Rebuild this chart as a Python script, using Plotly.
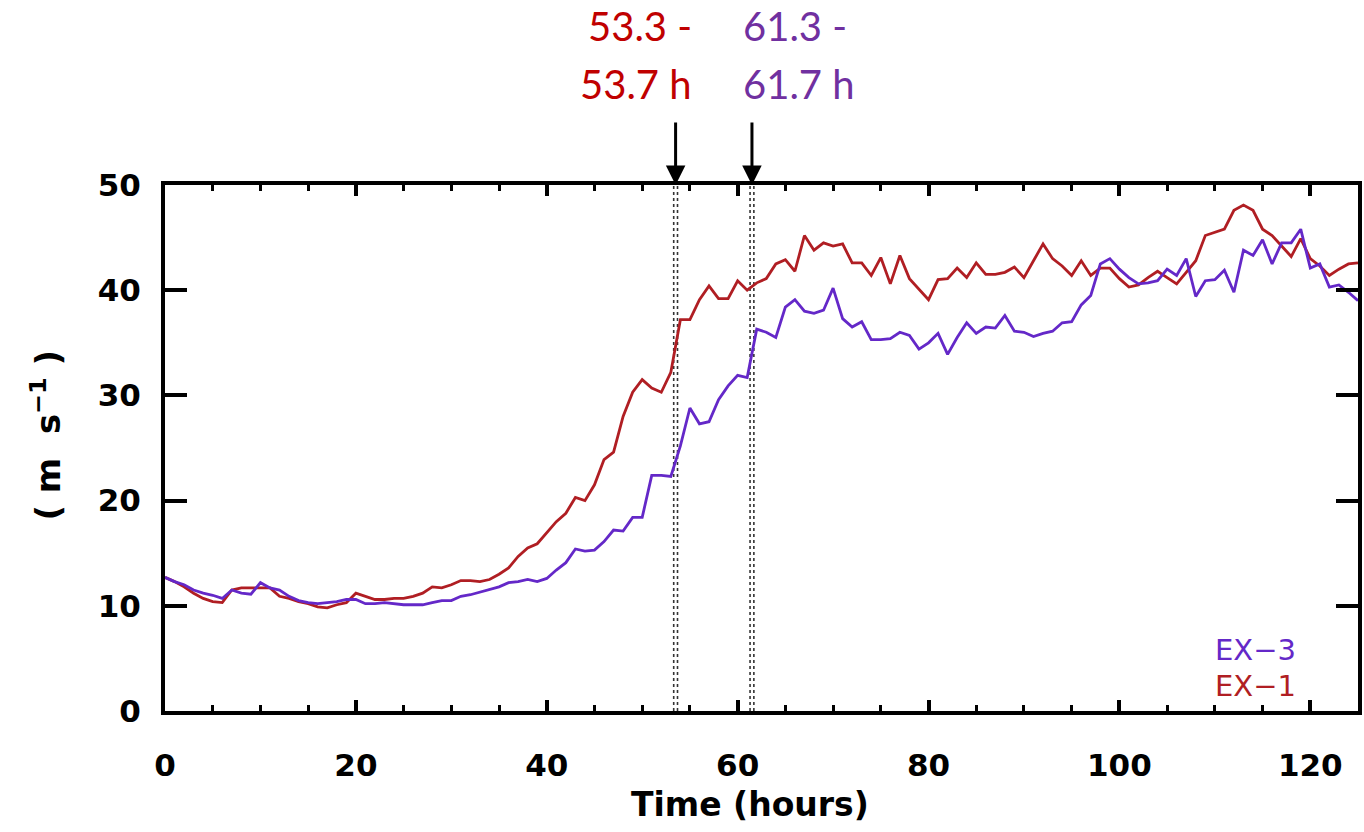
import plotly.graph_objects as go

# ---------------- data ----------------
hours = list(range(0, 126))

ex1 = [12.7, 12.3, 11.8, 11.2, 10.7, 10.4, 10.3, 11.5, 11.7, 11.7,
       11.7, 11.7, 10.9, 10.7, 10.4, 10.2, 9.9, 9.8, 10.1, 10.3,
       11.2, 10.9, 10.6, 10.6, 10.7, 10.7, 10.9, 11.2, 11.8, 11.7,
       12.0, 12.4, 12.4, 12.3, 12.5, 13.0, 13.6, 14.7, 15.5, 15.9,
       16.9, 18.0, 18.8, 20.3, 20.0, 21.5, 23.9, 24.6, 28.0, 30.3,
       31.5, 30.7, 30.3, 32.2, 37.2, 37.2, 39.1, 40.4, 39.2, 39.2,
       40.9, 40.0, 40.7, 41.1, 42.5, 42.9, 41.8, 45.2, 43.8, 44.5,
       44.2, 44.4, 42.6, 42.6, 41.4, 43.1, 40.6, 43.3, 41.1, 40.1,
       39.1, 41.0, 41.1, 42.1, 41.2, 42.6, 41.5, 41.5, 41.7, 42.2,
       41.2, 42.8, 44.4, 43.0, 42.3, 41.4, 42.8, 41.4, 42.1, 42.1,
       41.1, 40.3, 40.5, 41.2, 41.8, 41.2, 40.6, 41.7, 42.8, 45.2,
       45.5, 45.8, 47.6, 48.1, 47.6, 45.8, 45.2, 44.2, 43.2, 44.9,
       43.0, 42.3, 41.4, 42.0, 42.5, 42.6]

ex3 = [12.7, 12.3, 12.0, 11.5, 11.2, 11.0, 10.7, 11.5, 11.2, 11.1,
       12.2, 11.7, 11.5, 10.9, 10.5, 10.3, 10.2, 10.3, 10.4, 10.6,
       10.6, 10.2, 10.2, 10.3, 10.2, 10.1, 10.1, 10.1, 10.3, 10.5,
       10.5, 10.9, 11.05, 11.3, 11.6, 11.8, 12.2, 12.3, 12.5, 12.3,
       12.6, 13.4, 14.1, 15.4, 15.2, 15.3, 16.1, 17.2, 17.1, 18.4,
       18.4, 22.4, 22.4, 22.3, 25.2, 28.8, 27.3, 27.5, 29.6, 30.9,
       31.9, 31.7, 36.3, 36.0, 35.5, 38.4, 39.1, 38.0, 37.8, 38.1,
       40.2, 37.3, 36.5, 37.0, 35.3, 35.3, 35.4, 36.0, 35.7, 34.4,
       35.0, 35.9, 33.9, 35.5, 36.9, 35.9, 36.5, 36.4, 37.6, 36.1,
       36.0, 35.6, 35.9, 36.1, 36.9, 37.0, 38.6, 39.5, 42.5, 43.0,
       42.0, 41.2, 40.6, 40.7, 40.9, 42.0, 41.4, 43.0, 39.4, 40.9,
       41.0, 41.9, 39.8, 43.8, 43.3, 44.8, 42.5, 44.5, 44.5, 45.8,
       42.1, 42.5, 40.3, 40.5, 39.8, 39.0]

marker_times = [53.3, 53.7, 61.3, 61.7]
arrow_times = [53.5, 61.5]
label_lines = [["53.3 -", "53.7 h"], ["61.3 -", "61.7 h"]]
series_names = ["EX\u22123", "EX\u22121"]

# ---------------- style ----------------
RED_LINE = "#B01E23"
PURPLE_LINE = "#6428C8"
RED_TXT = "#C00000"
PURPLE_TXT = "#7030A0"
AXFONT = "DejaVu Sans"
TICK_FONT = dict(family=AXFONT, size=31, color="black", weight="bold")

fig = go.Figure()

# dotted vertical markers
for t in marker_times:
    fig.add_trace(go.Scatter(x=[t, t], y=[0, 50], mode="lines",
                             line=dict(color="#333333", width=1.6, dash="dot"),
                             showlegend=False, hoverinfo="skip"))

fig.add_trace(go.Scatter(x=hours, y=ex1, mode="lines", name="EX-1",
                         line=dict(color=RED_LINE, width=2.8), showlegend=False))
fig.add_trace(go.Scatter(x=hours, y=ex3, mode="lines", name="EX-3",
                         line=dict(color=PURPLE_LINE, width=2.8), showlegend=False))

annotations = []
# arrows
for t in arrow_times:
    annotations.append(dict(x=t, y=1.0, xref="x", yref="paper", text="",
                            showarrow=True, ax=0, ay=-64, arrowhead=2,
                            arrowsize=1.3, arrowwidth=3, arrowcolor="black"))

LBL_FONT = 40
# red labels (right aligned)
for i, txt in enumerate(label_lines[0]):
    annotations.append(dict(x=55.4, y=[1.303, 1.192][i], xref="x", yref="paper",
                            text=txt, showarrow=False, xanchor="right", yanchor="middle",
                            font=dict(family="Lato", size=LBL_FONT, color=RED_TXT)))
# purple labels (left aligned)
for i, txt in enumerate(label_lines[1]):
    annotations.append(dict(x=60.3, y=[1.303, 1.192][i], xref="x", yref="paper",
                            text=txt, showarrow=False, xanchor="left", yanchor="middle",
                            font=dict(family="Lato", size=LBL_FONT, color=PURPLE_TXT)))

# legend-like labels
annotations.append(dict(x=109.8, y=5.8, xref="x", yref="y", text=series_names[0],
                        showarrow=False, xanchor="left", yanchor="middle",
                        font=dict(family=AXFONT, size=29, color=PURPLE_LINE)))
annotations.append(dict(x=109.8, y=2.4, xref="x", yref="y", text=series_names[1],
                        showarrow=False, xanchor="left", yanchor="middle",
                        font=dict(family=AXFONT, size=29, color=RED_LINE)))

# axis titles
annotations.append(dict(x=0.49, y=-0.178, xref="paper", yref="paper", text="Time (hours)",
                        showarrow=False, xanchor="center", yanchor="middle",
                        font=dict(family=AXFONT, size=33, color="black", weight="bold")))
annotations.append(dict(x=-0.1, y=0.525, xref="paper", yref="paper",
                        text="( m  s<sup>\u22121</sup> )",
                        showarrow=False, xanchor="center", yanchor="middle", textangle=-90,
                        font=dict(family=AXFONT, size=34, color="black", weight="bold")))

fig.update_layout(
    width=1364, height=832,
    margin=dict(l=165, r=2, t=185, b=121),
    paper_bgcolor="white", plot_bgcolor="white",
    annotations=annotations,
    showlegend=False,
)

fig.update_xaxes(range=[0, 125], tickvals=[0, 20, 40, 60, 80, 100, 120],
                 showgrid=False, zeroline=False,
                 showline=True, linecolor="black", linewidth=4, mirror="ticks",
                 ticks="inside", ticklen=11, tickwidth=4, tickcolor="black",
                 tickfont=TICK_FONT, ticklabelstandoff=24,
                 minor=dict(dtick=5, ticks="inside", ticklen=6, tickwidth=3,
                            tickcolor="black", showgrid=False))
fig.update_yaxes(range=[0, 50], tickvals=[0, 10, 20, 30, 40, 50],
                 showgrid=False, zeroline=False,
                 showline=True, linecolor="black", linewidth=4, mirror="ticks",
                 ticks="inside", ticklen=22, tickwidth=4, tickcolor="black",
                 tickfont=TICK_FONT, ticklabelstandoff=14)

fig.write_html("out.html")
